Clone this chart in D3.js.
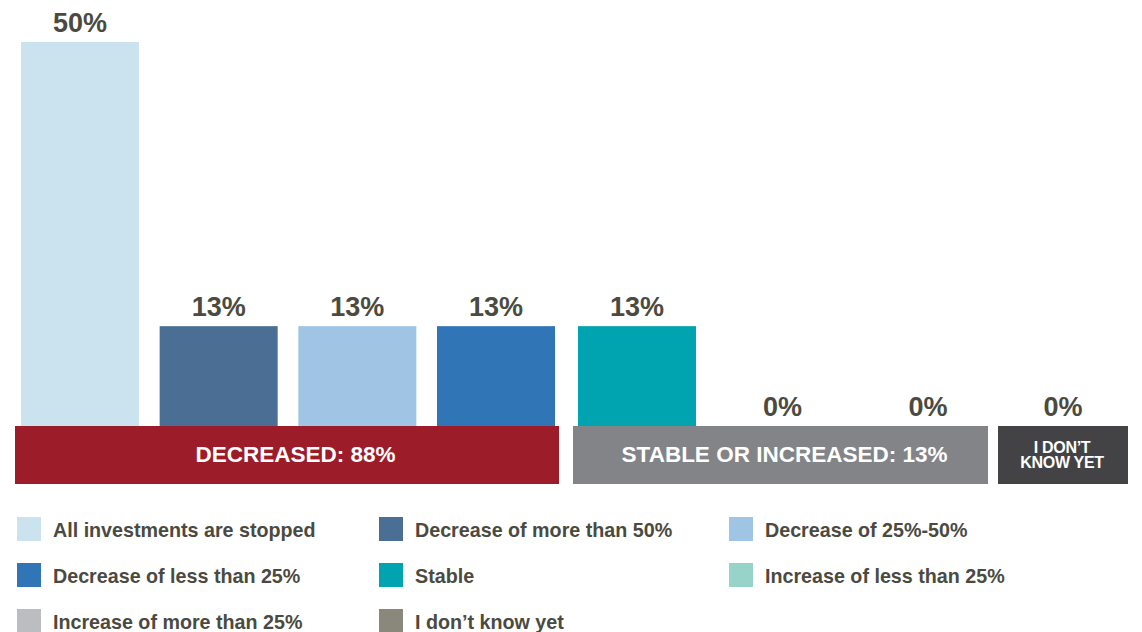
<!DOCTYPE html>
<html>
<head>
<meta charset="utf-8">
<script src="https://cdn.jsdelivr.net/npm/d3@7"></script>
<style>
  html, body { margin: 0; padding: 0; background: #ffffff; }
  svg { display: block; font-family: "Liberation Sans", Arial, Helvetica, sans-serif; }
</style>
</head>
<body>
<svg id="chart" width="1142" height="632"></svg>
<script>
// ---- data ----
const categories = [
  "All investments are stopped",
  "Decrease of more than 50%",
  "Decrease of 25%-50%",
  "Decrease of less than 25%",
  "Stable",
  "Increase of less than 25%",
  "Increase of more than 25%",
  "I don’t know yet"
];
const values = [50, 13, 13, 13, 13, 0, 0, 0];
const valueLabels = ["50%", "13%", "13%", "13%", "13%", "0%", "0%", "0%"];
const groupNames = ["DECREASED: 88%", "STABLE OR INCREASED: 13%", "I DON’T|KNOW YET"];
const groupOfCategory = [0, 0, 0, 0, 1, 1, 1, 2];
const colors = ["#cbe3ef", "#4b6f94", "#9fc4e4", "#3076b6", "#00a3b0", "#98d3c9", "#bcbdc0", "#8a887a"];
const groupColors = ["#9d1c2a", "#838488", "#434345"];

// ---- layout ----
const svg = d3.select("#chart");
const groupRanges = [[15, 559], [573, 988], [998, 1128]];
// [paddingInner, paddingOuter, align]
const groupPad = [[0.149, 0.036, 0.6], [0.189, 0.0206, 0.83], [0.0, 0.046, 0.5]];
const groupTextDx = [8.5, 4, -1];
const bandTop = 426, bandBottom = 484;
const y = d3.scaleLinear().domain([0, 50]).range([bandTop, 42]);
const textColor = "#4b4a3f";

const groupScales = groupNames.map((g, gi) => {
  const cats = categories.filter((c, i) => groupOfCategory[i] === gi);
  return d3.scaleBand().domain(cats).range(groupRanges[gi])
    .paddingInner(groupPad[gi][0]).paddingOuter(groupPad[gi][1]).align(groupPad[gi][2]);
});
const xOf = i => groupScales[groupOfCategory[i]](categories[i]);
const bwOf = i => groupScales[groupOfCategory[i]].bandwidth();

const data = categories.map((c, i) => ({ c, i, v: values[i], label: valueLabels[i] }));

// bars
svg.append("g").selectAll("rect").data(data).join("rect")
  .attr("x", d => xOf(d.i))
  .attr("width", d => bwOf(d.i))
  .attr("y", d => y(d.v))
  .attr("height", d => y(0) - y(d.v))
  .attr("fill", d => colors[d.i]);

// value labels
svg.append("g").selectAll("text").data(data).join("text")
  .attr("x", d => xOf(d.i) + bwOf(d.i) / 2)
  .attr("y", d => y(d.v) - 10)
  .attr("text-anchor", "middle")
  .attr("font-size", "27px")
  .attr("font-weight", "bold")
  .attr("fill", textColor)
  .text(d => d.label);

// group bands
const gb = svg.append("g").selectAll("g").data(groupNames).join("g");
gb.append("rect")
  .attr("x", (d, gi) => groupRanges[gi][0])
  .attr("width", (d, gi) => groupRanges[gi][1] - groupRanges[gi][0])
  .attr("y", bandTop)
  .attr("height", bandBottom - bandTop)
  .attr("fill", (d, gi) => groupColors[gi]);
gb.each(function(d, gi) {
  const lines = d.split("|");
  const cx = (groupRanges[gi][0] + groupRanges[gi][1]) / 2 + groupTextDx[gi];
  const t = d3.select(this).append("text")
    .attr("text-anchor", "middle")
    .attr("font-weight", "bold")
    .attr("fill", "#ffffff");
  if (lines.length === 1) {
    t.attr("x", cx).attr("y", 461.5).attr("font-size", "22.5px").text(lines[0]);
  } else {
    t.attr("font-size", "16px").attr("letter-spacing", "-0.3px");
    lines.forEach((ln, k) => {
      t.append("tspan").attr("x", cx).attr("y", 453 + k * 14.5).text(ln);
    });
  }
});

// legend
const legX = [17, 379, 729];
const legY = [517, 563, 609];
const leg = svg.append("g").selectAll("g").data(categories).join("g")
  .attr("transform", (d, i) => `translate(${legX[i % 3]},${legY[Math.floor(i / 3)]})`);
leg.append("rect").attr("width", 24).attr("height", 24).attr("fill", (d, i) => colors[i]);
leg.append("text")
  .attr("x", 36).attr("y", 19.5)
  .attr("font-size", "19.7px")
  .attr("font-weight", "bold")
  .attr("fill", textColor)
  .text(d => d);
</script>
</body>
</html>
